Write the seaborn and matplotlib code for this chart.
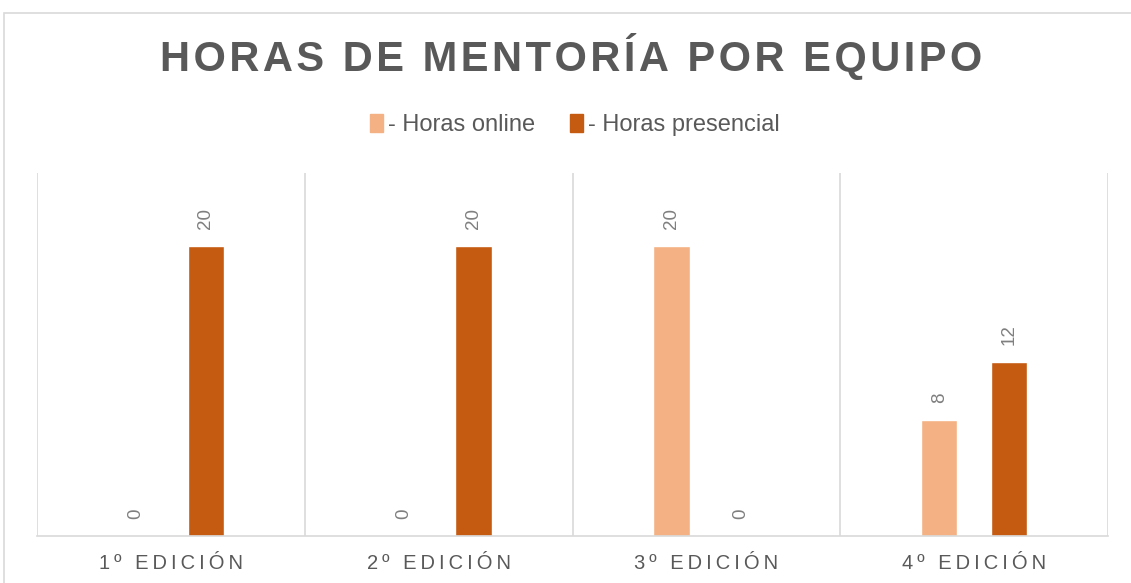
import matplotlib
matplotlib.use("Agg")
import matplotlib.pyplot as plt
import pandas as pd
import seaborn as sns
from matplotlib.patches import Rectangle

# Data
ediciones = ["1º EDICIÓN", "2º EDICIÓN", "3º EDICIÓN", "4º EDICIÓN"]
series = ["- Horas online", "- Horas presencial"]
horas_online = [0, 0, 20, 8]
horas_presencial = [20, 20, 0, 12]
colores = ["#F4B183", "#C55A11"]

df = pd.DataFrame({
    "Edicion": ediciones * 2,
    "Tipo": [series[0]] * 4 + [series[1]] * 4,
    "Horas": horas_online + horas_presencial,
})


def spaced(txt, sep="\u2009"):
    # fake letter spacing
    return sep.join(list(txt))


sns.set_style("white")
plt.rcParams["font.family"] = ["Liberation Sans", "DejaVu Sans"]
gris = "#595959"

fig = plt.figure(figsize=(11.31, 5.83), dpi=100)
W, H = 1131, 583
ax = fig.add_axes([37 / W, (H - 536) / H, (1108 - 37) / W, (536 - 173) / H])

sns.barplot(data=df, x="Edicion", y="Horas", hue="Tipo", palette=colores,
            width=0.52, gap=0.48, ax=ax, legend=False, saturation=1)

ax.set_ylim(0, 25)
ax.set_xlim(-0.5, 3.5)
for s in ["top", "right", "left"]:
    ax.spines[s].set_visible(False)
ax.spines["bottom"].set_color("#D9D9D9")
ax.spines["bottom"].set_linewidth(1.2)
for xv in [-0.5, 0.5, 1.5, 2.5, 3.5]:
    ax.axvline(xv, color="#D9D9D9", lw=1.2, zorder=0)
ax.set_yticks([])
ax.set_xlabel("")
ax.set_ylabel("")
ax.set_xticks(range(4))
ax.set_xticklabels([spaced(e, "\u2009") for e in ediciones], fontsize=14.5, color=gris)
ax.tick_params(axis="x", length=0, pad=13)

for cont in ax.containers:
    ax.bar_label(cont, rotation=90, padding=12, fontsize=13.5, color="#7F7F7F")

fig.text(0.5053, 1 - 57 / H, spaced("HORAS DE MENTORÍA POR EQUIPO", "\u200a"), ha="center", va="center",
         fontsize=30, fontweight="bold", color=gris)

handles = [Rectangle((0, 0), 1, 1, color=c) for c in colores]
fig.legend(handles, series, loc="center", bbox_to_anchor=(575 / W, 1 - 125 / H), ncol=2,
           frameon=False, fontsize=17, labelcolor=gris, handlelength=0.55, handleheight=0.8,
           handletextpad=0.2, columnspacing=1.5)

# chart border
fig.patches.append(Rectangle((4 / W, -0.1), 1.2, 1 - 13 / H + 0.1, transform=fig.transFigure,
                             fill=False, edgecolor="#D9D9D9", lw=1.2))

fig.savefig("out.png", dpi=100)
